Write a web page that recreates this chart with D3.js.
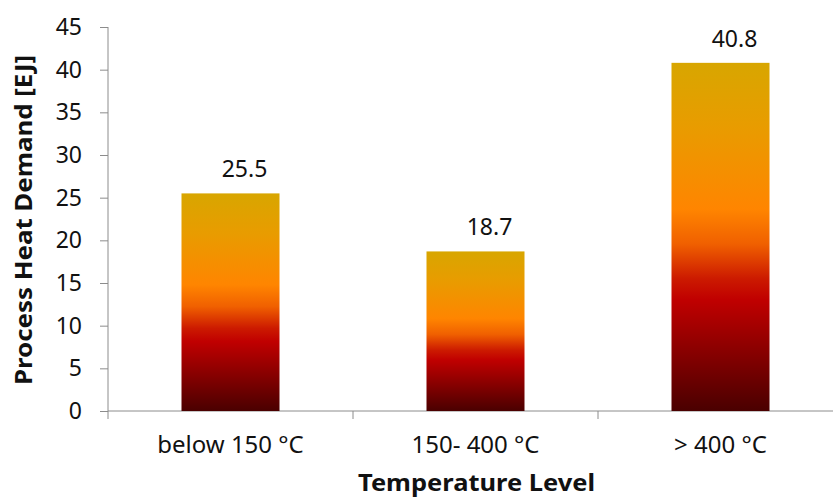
<!DOCTYPE html>
<html>
<head>
<meta charset="utf-8">
<script src="https://cdn.jsdelivr.net/npm/d3@7"></script>
<style>
  body { margin: 0; background: #fff; }
  text { font-family: "Noto Sans", "Open Sans", sans-serif; fill: #111; }
</style>
</head>
<body>
<svg width="833" height="497"></svg>
<script>
'use strict';

// datos
var categorias = ["below 150 °C", "150- 400 °C", "> 400 °C"];
var valores = [25.5, 18.7, 40.8];
var ticksY = [0, 5, 10, 15, 20, 25, 30, 35, 40, 45];

var svg = d3.select("svg"),
  margin = { top: 27, right: -10, bottom: 86, left: 108 },
  width = +svg.attr("width") - margin.left - margin.right,
  height = +svg.attr("height") - margin.top - margin.bottom;

var x = d3.scaleBand().domain(categorias).range([0, width]).padding(0),
  y = d3.scaleLinear().domain([0, 45]).range([height, 0]);

var anchoBarra = x.bandwidth() * 0.4;

// degradado por barra (de arriba hacia abajo)
var grad = svg.append("defs").append("linearGradient")
  .attr("id", "calor")
  .attr("x1", 0).attr("y1", 0).attr("x2", 0).attr("y2", 1);
[[0, "#d8a600"], [0.18, "#e89c00"], [0.42, "#ff8500"], [0.52, "#f06000"],
 [0.62, "#cc1a00"], [0.68, "#c00000"], [0.82, "#8c0000"], [1, "#4a0000"]]
  .forEach(function (s) {
    grad.append("stop").attr("offset", s[0]).attr("stop-color", s[1]);
  });

var g = svg.append("g")
  .attr("transform", "translate(" + margin.left + "," + margin.top + ")");

// eje y
var ejeY = g.append("g")
  .call(d3.axisLeft(y).tickValues(ticksY).tickSize(8).tickPadding(18));
ejeY.selectAll("text").style("font-size", "23px");
ejeY.selectAll("line, path").attr("stroke", "#8c8c8c");
ejeY.select(".domain").attr("d", "M0," + y(45) + "V" + y(0));

// eje x: marcas en los bordes de cada banda
g.append("line")
  .attr("x1", 0).attr("x2", width + 20)
  .attr("y1", height).attr("y2", height)
  .attr("stroke", "#8c8c8c");

g.selectAll(".marca")
  .data(categorias)
  .enter().append("line")
  .attr("class", "marca")
  .attr("x1", function (d) { return x(d); })
  .attr("x2", function (d) { return x(d); })
  .attr("y1", height).attr("y2", height + 8)
  .attr("stroke", "#8c8c8c");

g.selectAll(".etiquetaX")
  .data(categorias)
  .enter().append("text")
  .attr("class", "etiquetaX")
  .attr("x", function (d) { return x(d) + x.bandwidth() / 2; })
  .attr("y", height + 42)
  .attr("text-anchor", "middle")
  .style("font-size", "24px")
  .text(function (d) { return d; });

// barras
g.selectAll(".bar")
  .data(valores)
  .enter().append("rect")
  .attr("class", "bar")
  .attr("x", function (d, i) { return x(categorias[i]) + (x.bandwidth() - anchoBarra) / 2; })
  .attr("y", function (d) { return y(d); })
  .attr("width", anchoBarra)
  .attr("height", function (d) { return height - y(d); })
  .attr("fill", "url(#calor)");

g.selectAll(".valor")
  .data(valores)
  .enter().append("text")
  .attr("class", "valor")
  .attr("x", function (d, i) { return x(categorias[i]) + x.bandwidth() / 2 + 14; })
  .attr("y", function (d) { return y(d) - 16; })
  .attr("text-anchor", "middle")
  .style("font-size", "23px")
  .text(function (d) { return d.toFixed(1); });

// titulos
svg.append("text")
  .attr("transform", "translate(32," + (margin.top + height / 2 + 1) + ") rotate(-90)")
  .attr("text-anchor", "middle")
  .attr("textLength", 330)
  .attr("lengthAdjust", "spacingAndGlyphs")
  .style("font-size", "24px")
  .style("font-weight", "bold")
  .text("Process Heat Demand [EJ]");

svg.append("text")
  .attr("x", margin.left + width / 2 + 1)
  .attr("y", 491)
  .attr("text-anchor", "middle")
  .attr("textLength", 237)
  .attr("lengthAdjust", "spacingAndGlyphs")
  .style("font-size", "24px")
  .style("font-weight", "bold")
  .text("Temperature Level");
</script>
</body>
</html>
